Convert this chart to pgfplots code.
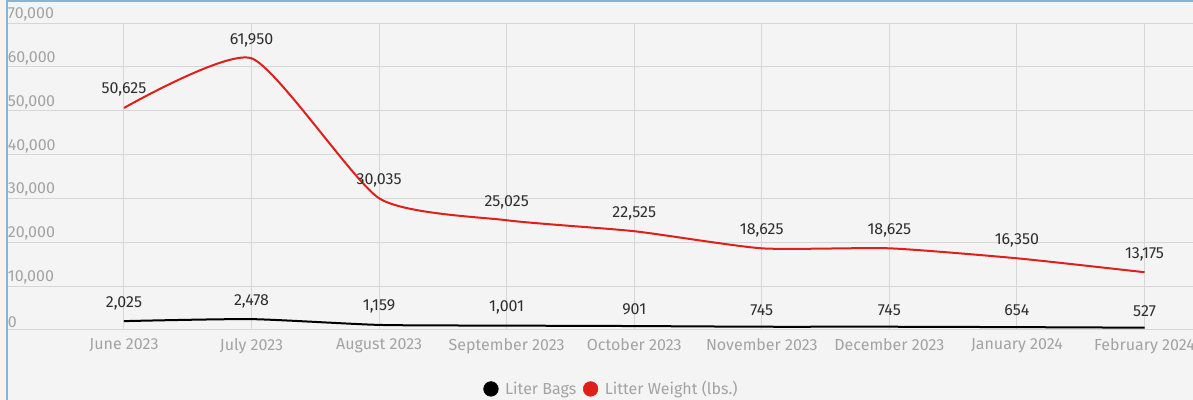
\documentclass[border=0pt]{standalone}
\usepackage{fontspec}
\setmainfont{Fira Sans}
\usepackage{pgfplots}
\pgfplotsset{compat=1.18}
\definecolor{bg}{HTML}{F4F4F4}
\definecolor{gridc}{HTML}{D6D6D6}
\definecolor{tickc}{HTML}{A3A3A3}
\definecolor{framec}{HTML}{86B6D4}
\definecolor{redl}{HTML}{DE1F1A}
\definecolor{labc}{HTML}{2E2E2E}
\begin{document}
\begin{tikzpicture}[x=1pt,y=1pt]
\useasboundingbox (0,0) rectangle (894.75,300);
\fill[bg] (0,0) rectangle (894.75,300);
\begin{axis}[
  at={(5.25pt,52.5pt)}, anchor=south west,
  scale only axis, width=889.5pt, height=230.25pt,
  xmin=-0.917, xmax=8.38, ymin=0, ymax=70000,
  axis line style={draw=none},
  major tick length=0pt,
  grid=major, grid style={gridc, line width=0.75pt},
  xtick={0,...,8},
  xticklabels={June 2023, July 2023, August 2023, September 2023, October 2023, November 2023, December 2023, January 2024, February 2024},
  ytick={0,10000,...,70000},
  scaled y ticks=false,
  /pgf/number format/.cd, fixed, precision=0, 1000 sep={,}, assume math mode=true, /pgfplots/.cd,
  yticklabel style={anchor=south west, inner xsep=0.5pt, inner ysep=1.2pt, font=\fontsize{12}{14}\selectfont, text=tickc},
  xticklabel style={font=\fontsize{12}{14}\selectfont, text=tickc, yshift=-3pt},
  point meta=y,
  nodes near coords,
  every node near coord/.append style={anchor=south, yshift=4.5pt, font=\fontsize{12}{14}\selectfont, text=labc},
  legend columns=2,
  legend style={at={(0.51,-0.192)}, anchor=center, draw=none, fill=none,
    font=\fontsize{12}{14}\selectfont, text=tickc,
    /tikz/every odd column/.append style={column sep=3pt},
    /tikz/every even column/.append style={column sep=3pt}},
  legend cell align=left,
]
\addplot[black, line width=1.5pt, smooth, tension=0.35, forget plot] coordinates {
  (0,2025) (1,2478) (2,1159) (3,1001) (4,901) (5,745) (6,745) (7,654) (8,527)};
\addplot[redl, line width=1.5pt, smooth, tension=0.35, forget plot] coordinates {
  (0,50625) (1,61950) (2,30035) (3,25025) (4,22525) (5,18625) (6,18625) (7,16350) (8,13175)};
\addlegendimage{black, legend image code/.code={\fill (0cm,0cm) circle (5.5pt);}}
\addlegendentry{Liter Bags}
\addlegendimage{redl, legend image code/.code={\fill (0cm,0cm) circle (5.5pt);}}
\addlegendentry{Litter Weight (lbs.)}
\end{axis}
\draw[framec, line width=1.1pt] (5.25,0) -- (5.25,299.2) -- (894.75,299.2);
\end{tikzpicture}
\end{document}
